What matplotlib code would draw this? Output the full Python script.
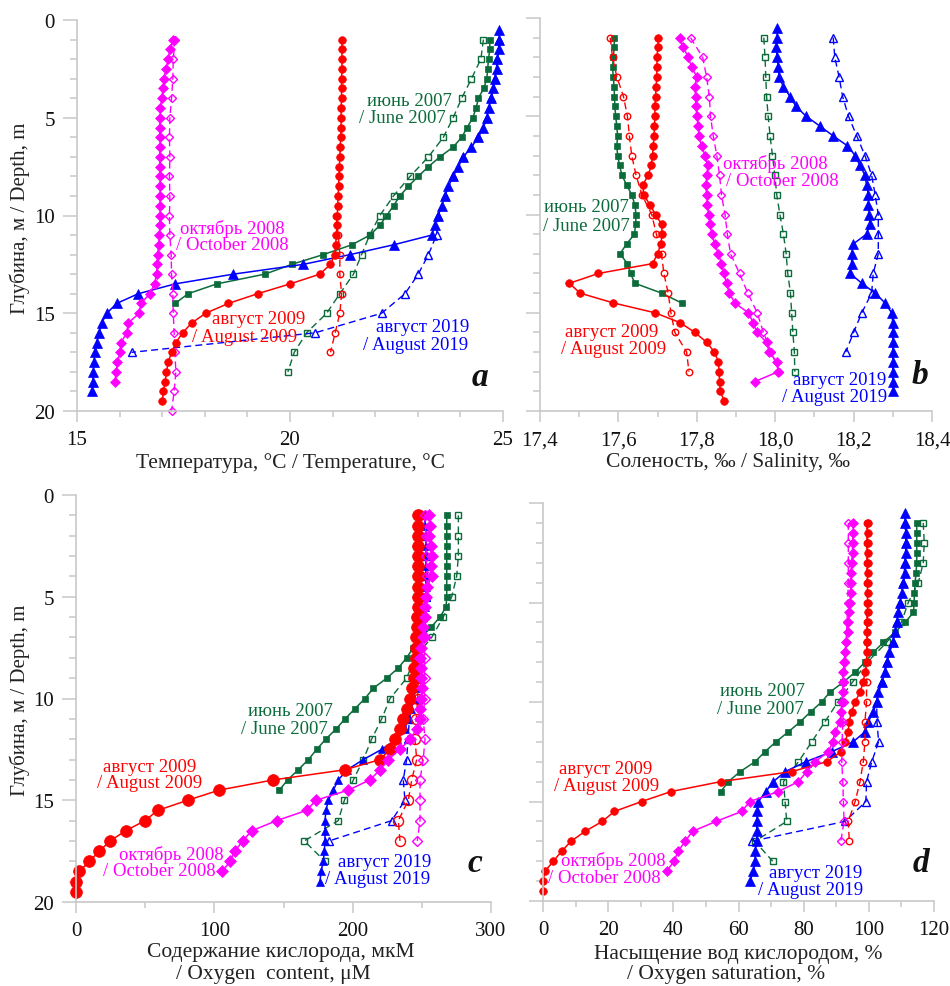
import matplotlib
matplotlib.use("Agg")
import matplotlib.pyplot as plt
from matplotlib.ticker import MultipleLocator, FuncFormatter

plt.rcParams['font.family'] = ['Liberation Serif', 'DejaVu Serif']

RED = '#ff0000'
MAG = '#ff00ff'
BLUE = '#0000ff'
GREEN = '#0b6b3a'

# sampling depths, m
HALF = [0.5, 1.0, 1.5, 2.0, 2.5, 3.0, 3.5, 4.0, 4.5, 5.0, 5.5, 6.0, 6.5, 7.0,
        7.5, 8.0, 8.5, 9.0, 9.5, 10.0, 10.5, 11.0, 11.5, 12.0, 12.5, 13.0,
        13.5, 14.0, 14.5, 15.0, 15.5, 16.0, 16.5, 17.0, 17.5, 18.0, 18.5,
        19.0, 19.5, 20.0]
ONE = [1, 2, 3, 4, 5, 6, 7, 8, 9, 10, 11, 12, 13, 14, 15, 16, 17, 18, 19, 20]


def half(a, b):
    return HALF[HALF.index(a):HALF.index(b) + 1]


def one(a, b):
    return ONE[a - 1:b]


# ---- a: temperature, C ----
a_red = [21.22, 21.22, 21.22, 21.22, 21.21, 21.21, 21.21, 21.2, 21.2, 21.2,
         21.19, 21.18, 21.17, 21.16, 21.15, 21.14, 21.13, 21.12, 21.11, 21.1,
         21.09, 21.07, 21.05, 20.95, 20.7, 20.0, 19.24, 18.55, 18.02, 17.69,
         17.48, 17.32, 17.22, 17.14, 17.1, 17.07, 17.03, 17.0]
a_red_d = [21.08, 21.13, 21.17, 21.17, 21.21, 21.17, 21.06, 20.95]
a_mag = [17.26, 17.18, 17.14, 17.09, 17.04, 17.02, 16.99, 16.96, 16.95, 16.94,
         16.95, 16.95, 16.94, 16.95, 16.95, 16.95, 16.95, 16.95, 16.95, 16.95,
         16.93, 16.92, 16.89, 16.88, 16.87, 16.82, 16.71, 16.50, 16.46, 16.20,
         16.17, 16.03, 16.01, 15.95, 15.92, 15.89]
a_mag_d = [17.3, 17.26, 17.25, 17.22, 17.18, 17.17, 17.18, 17.17, 17.18, 17.17,
           17.18, 17.21, 17.22, 17.25, 17.26, 17.28, 17.30, 17.32, 17.28, 17.22]
a_grn = [24.69, 24.69, 24.66, 24.64, 24.62, 24.55, 24.42, 24.37, 24.29, 24.16,
         24.03, 23.83, 23.52, 23.25, 23.01, 22.78, 22.58, 22.43, 22.27, 22.11,
         21.88, 21.45, 20.78, 20.04, 19.41, 18.28, 17.61, 17.30]
a_grn_d = [24.54, 24.48, 24.26, 24.03, 23.83, 23.6, 23.25, 22.82, 22.43, 22.11,
           21.87, 21.68, 21.49, 21.17, 20.86, 20.39, 20.1, 19.95]
a_blu = [24.91, 24.91, 24.91, 24.87, 24.85, 24.81, 24.77, 24.73, 24.66, 24.62,
         24.54, 24.42, 24.26, 24.07, 23.95, 23.83, 23.72, 23.64, 23.56, 23.48,
         23.40, 23.33, 22.43, 21.41, 20.31, 18.67, 17.30, 16.44, 15.93, 15.70,
         15.58, 15.52, 15.46, 15.42, 15.40, 15.38, 15.37, 15.36]
a_blu_d = [24.91, 24.87, 24.81, 24.73, 24.62, 24.42, 24.07, 23.83, 23.64, 23.48,
           23.44, 23.25, 23.01, 22.7, 22.15, 20.59, 16.28]

# ---- b: salinity, permille ----
b_red = [17.702, 17.700, 17.699, 17.698, 17.698, 17.696, 17.695, 17.693, 17.693,
         17.692, 17.691, 17.689, 17.687, 17.684, 17.676, 17.662, 17.665, 17.68,
         17.695, 17.71, 17.712, 17.708, 17.70, 17.687, 17.549, 17.475, 17.502,
         17.587, 17.693, 17.757, 17.795, 17.825, 17.845, 17.855, 17.857, 17.858,
         17.86, 17.87]
b_red_d = [17.579, 17.585, 17.596, 17.613, 17.623, 17.628, 17.634, 17.645, 17.66,
           17.685, 17.697, 17.71, 17.716, 17.727, 17.734, 17.744, 17.774, 17.78]
b_mag = [17.756, 17.766, 17.778, 17.787, 17.80, 17.795, 17.797, 17.798, 17.80,
         17.804, 17.805, 17.812, 17.821, 17.828, 17.826, 17.823, 17.825, 17.827,
         17.83, 17.834, 17.838, 17.846, 17.855, 17.863, 17.869, 17.876, 17.883,
         17.897, 17.931, 17.944, 17.953, 17.978, 17.985, 18.004, 18.008, 17.948]
b_mag_d = [17.784, 17.815, 17.825, 17.832, 17.835, 17.842, 17.851, 17.858, 17.863,
           17.872, 17.878, 17.886, 17.909, 17.93, 17.954, 17.97, 17.99, 18.01]
b_grn = [17.59, 17.589, 17.587, 17.585, 17.587, 17.589, 17.59, 17.591, 17.593,
         17.596, 17.598, 17.596, 17.598, 17.603, 17.609, 17.621, 17.634, 17.642,
         17.645, 17.644, 17.641, 17.621, 17.604, 17.623, 17.631, 17.642, 17.71,
         17.761]
b_grn_d = [17.971, 17.974, 17.976, 17.978, 17.982, 17.987, 17.993, 17.999, 18.004,
           18.012, 18.021, 18.028, 18.032, 18.039, 18.042, 18.045, 18.049, 18.05]
b_blu = [18.005, 18.005, 18.003, 18.005, 18.008, 18.01, 18.021, 18.038, 18.053,
         18.079, 18.114, 18.148, 18.184, 18.204, 18.216, 18.229, 18.233, 18.238,
         18.238, 18.24, 18.242, 18.233, 18.199, 18.195, 18.195, 18.191, 18.221,
         18.255, 18.28, 18.297, 18.30, 18.30, 18.30, 18.30, 18.30, 18.30, 18.30,
         18.30]
b_blu_d = [18.148, 18.152, 18.163, 18.172, 18.187, 18.208, 18.229, 18.246, 18.255,
           18.263, 18.263, 18.263, 18.25, 18.246, 18.221, 18.2, 18.18]

# ---- c: oxygen content, uM ----
c_red = [247.5, 247.5, 247.5, 247, 247, 247, 247, 247, 247, 247, 246.5, 246.5,
         246, 246, 245.5, 244.5, 244, 243, 241.5, 239.5, 236.5, 234, 230.6, 227,
         219.8, 194.5, 142.7, 103.6, 80.7, 59, 49.9, 35.9, 24.6, 16.9, 9.6, 2.4,
         0, 0]
c_red_d = [248, 248, 248, 248.5, 248.5, 248.5, 248, 248, 247.5, 247, 246, 245,
           246.3, 242.7, 240.2, 233, 234.2]
c_mag = [255, 256, 255.5, 256.5, 257, 256.5, 257, 254, 253, 252.5, 252, 251,
         250.5, 249.5, 249, 249.5, 249.5, 250, 249.5, 249, 248.7, 246.3, 241.4,
         234.2, 225.8, 219.8, 212.5, 196.9, 173.5, 166.7, 145.1, 127, 120.5,
         114.9, 111.3, 105.8]
c_mag_d = [252, 253, 253, 253.5, 253, 252.5, 252, 252, 252, 252, 251, 252.3, 251,
           248.7, 248.7, 248.7, 246.7]
c_grn = [268, 268, 268, 268, 268, 268, 268, 268, 268, 267.5, 263.1, 256.6, 249.9,
         243.9, 239, 233, 224.6, 214.9, 208.9, 201.7, 194.5, 188, 180.5, 174,
         168, 160.7, 153, 147]
c_grn_d = [276.4, 276.4, 276.4, 275.2, 271.6, 265.5, 257.1, 245, 239, 227, 221,
           213.7, 207.7, 200.5, 194, 189.6, 165, 180]
c_blu = [252, 252.5, 253, 253, 253, 253, 253, 253, 253, 252, 251, 250, 249,
         248.5, 248, 247.5, 247, 245.5, 244, 242, 240, 237.8, 231.8, 221, 207.7,
         196.1, 189.6, 186, 182.4, 180.7, 180, 180, 180, 179.5, 178.8, 177.1,
         176.4]
c_blu_d = [252, 253, 253, 253, 253, 251, 249, 248, 247, 244, 241, 240, 239,
           236.6, 237.8, 228.2, 183]

# ---- d: oxygen saturation, % ----
d_red = [99.6, 99.6, 99.6, 99.6, 99.6, 99.6, 99.6, 99.6, 99.6, 99.6, 99.6, 99.5,
         99.5, 99.4, 99.3, 98.8, 98.3, 97.3, 95.8, 94.7, 93.9, 93.7, 92.7, 91.4,
         87.1, 76.3, 54.6, 39.3, 30.3, 21.9, 18.2, 12.9, 8.6, 5.7, 3.2, 0.6, 0,
         0]
d_red_d = [99.4, 99.4, 99.4, 99.4, 99.4, 99.4, 99.4, 99.3, 99.3, 99.3, 98.8,
           98.8, 98.3, 97.3, 95.8, 93.7, 94.0]
d_mag = [95.2, 95.2, 95.0, 95.0, 94.7, 94.5, 94.5, 94.4, 94.2, 94.0, 93.7, 93.5,
         93.0, 92.7, 92.4, 92.2, 92.0, 92.0, 91.7, 91.5, 91.2, 89.6, 88.9, 87.6,
         83.5, 80.9, 78.4, 72.2, 63.5, 61.0, 53.1, 45.9, 43.6, 41.5, 40.2, 38.0]
d_mag_d = [93.7, 93.7, 93.7, 93.7, 93.5, 93.3, 93.0, 92.8, 92.5, 92.3, 92.0,
           91.8, 91.7, 92.0, 92.2, 92.4, 91.4]
d_grn = [114.7, 114.7, 114.7, 114.7, 114.7, 114.5, 114.2, 114.0, 113.9, 113.7,
         111.1, 108.0, 104.5, 101.4, 98.8, 95.8, 92.2, 88.1, 85.5, 82.1, 78.9,
         75.3, 71.5, 68.1, 65.1, 60.5, 56.9, 54.6]
d_grn_d = [116.7, 117.0, 116.7, 115.2, 112.1, 110.0, 105.5, 99.5, 95.0, 90.5,
           86.5, 82.5, 78.4, 73.8, 74.3, 74.8, 65.0, 70.5]
d_blu = [111.1, 111.1, 111.4, 111.4, 111.4, 111.1, 111.1, 110.6, 110.1, 109.6,
         109.1, 108.5, 108.0, 107.3, 106.3, 105.5, 105.0, 103.9, 102.9, 102.4,
         101.4, 99.8, 98.8, 95.2, 88.6, 80.7, 74.3, 70.7, 68.4, 66.1, 65.8, 65.6,
         65.6, 65.6, 65.1, 65.1, 64.6, 63.5]
d_blu_d = [111.1, 111.4, 111.1, 110.6, 109.6, 108.5, 107.3, 105.5, 103.9, 102.4,
           102.5, 103.0, 100.9, 99.3, 99.1, 92.7, 64.0]

LAB_2007 = ("июнь 2007", "/ June 2007")
LAB_2008 = ("октябрь 2008", "/ October 2008")
LAB_2009 = ("август 2009", "/ August 2009")
LAB_2019 = ("август 2019", "/ August 2019")

W, H = 950, 987
fig = plt.figure(figsize=(W / 100, H / 100), dpi=100)


def box(l, r, t, b):
    return [l / W, 1 - b / H, (r - l) / W, (b - t) / H]


def ftxt(x, y, s, **kw):
    fig.text(x / W, 1 - y / H, s, ha='center', va='center', **kw)


def style(ax, xlim, major, minor, ylab=True, fmt=None):
    ax.set_xlim(*xlim)
    ax.set_ylim(20, 0)
    ax.spines['top'].set_visible(False)
    ax.spines['right'].set_visible(False)
    for s in ('left', 'bottom'):
        ax.spines[s].set_color('#c8c8c8')
        ax.spines[s].set_linewidth(1.2)
    ax.xaxis.set_major_locator(MultipleLocator(major))
    ax.xaxis.set_minor_locator(MultipleLocator(minor))
    ax.yaxis.set_major_locator(MultipleLocator(5))
    ax.yaxis.set_minor_locator(MultipleLocator(1))
    ax.tick_params(which='both', direction='out', color='#c8c8c8', width=1.1,
                   labelsize=15, labelcolor='#111111')
    ax.tick_params(axis='y', which='major', length=10, pad=6)
    ax.tick_params(axis='y', which='minor', length=5)
    ax.tick_params(axis='x', which='major', length=8, pad=6)
    ax.tick_params(axis='x', which='minor', length=4)
    if not ylab:
        ax.set_yticklabels([])
    if fmt:
        ax.xaxis.set_major_formatter(FuncFormatter(fmt))


def prof(ax, depth, vals, color, marker, ms, dashed=False):
    if dashed:
        ax.plot(vals, depth, color=color, lw=1.0, ls=(0, (5, 3)), marker=marker,
                ms=ms * 0.85, mfc='none', mec=color, mew=1.0, clip_on=False)
    else:
        ax.plot(vals, depth, color=color, lw=1.1, marker=marker, ms=ms,
                mfc=color, mec=color, mew=0.5, clip_on=False)


def series(ax, data, ms):
    # data: (solid depth, solid vals, dashed depth, dashed vals, color, marker)
    for d1, v1, d2, v2, col, mk in data:
        prof(ax, d2, v2, col, mk, ms[mk], dashed=True)
        prof(ax, d1, v1, col, mk, ms[mk])


def label(lines, pos, color):
    for s, (x, y) in zip(lines, pos):
        ftxt(x, y, s, color=color, fontsize=13.5)


MS = {'o': 5.5, 'D': 5.0, '^': 6.5, 's': 5.0}
MS_C = {'o': 8.5, 'D': 6.5, '^': 6.0, 's': 5.0}

# panel a
ax = fig.add_axes(box(77, 503, 21, 412))
style(ax, (15, 25), 5, 1)
series(ax, [
    (half(1.0, 14.5), a_grn, one(1, 18), a_grn_d, GREEN, 's'),
    (half(0.5, 19.0), a_blu, one(1, 17), a_blu_d, BLUE, '^'),
    (half(1.0, 18.5), a_mag, one(1, 20), a_mag_d, MAG, 'D'),
    (half(1.0, 19.5), a_red, one(10, 17), a_red_d, RED, 'o'),
], MS)

# panel b
ax = fig.add_axes(box(540, 932, 19, 412))
style(ax, (17.4, 18.4), 0.2, 0.1, ylab=False,
      fmt=lambda v, p: f"{v:.1f}".replace('.', ','))
series(ax, [
    (half(1.0, 14.5), b_grn, one(1, 18), b_grn_d, GREEN, 's'),
    (half(0.5, 19.0), b_blu, one(1, 17), b_blu_d, BLUE, '^'),
    (half(1.0, 18.5), b_mag, one(1, 18), b_mag_d, MAG, 'D'),
    (half(1.0, 19.5), b_red, one(1, 18), b_red_d, RED, 'o'),
], MS)

# panel c
ax = fig.add_axes(box(76, 491, 496, 903))
style(ax, (0, 300), 100, 50)
series(ax, [
    (half(1.0, 14.5), c_grn, one(1, 18), c_grn_d, GREEN, 's'),
    (half(1.0, 19.0), c_blu, one(1, 17), c_blu_d, BLUE, '^'),
    (half(1.0, 19.5), c_red, one(1, 17), c_red_d, RED, 'o'),
    (half(1.0, 18.5), c_mag, one(1, 17), c_mag_d, MAG, 'D'),
], MS_C)

# panel d
ax = fig.add_axes(box(543, 934, 504, 902))
style(ax, (0, 120), 20, 10, ylab=False)
series(ax, [
    (half(1.0, 14.5), d_grn, one(1, 18), d_grn_d, GREEN, 's'),
    (half(0.5, 19.0), d_blu, one(1, 17), d_blu_d, BLUE, '^'),
    (half(1.0, 19.5), d_red, one(1, 17), d_red_d, RED, 'o'),
    (half(1.0, 18.5), d_mag, one(1, 17), d_mag_d, MAG, 'D'),
], MS)

# curve labels
label(LAB_2007, [(409, 102), (402, 119)], GREEN)
label(LAB_2008, [(232, 229), (232, 246)], MAG)
label(LAB_2009, [(259, 320), (245, 337)], RED)
label(LAB_2019, [(423, 328), (416, 345)], BLUE)

label(LAB_2008, [(775, 164), (782, 182)], MAG)
label(LAB_2007, [(586, 208), (586, 227)], GREEN)
label(LAB_2009, [(612, 333), (614, 350)], RED)
label(LAB_2019, [(840, 381), (835, 397)], BLUE)

label(LAB_2007, [(290, 712), (284, 729)], GREEN)
label(LAB_2009, [(150, 767), (150, 784)], RED)
label(LAB_2008, [(171, 855), (159, 872)], MAG)
label(LAB_2019, [(385, 863), (378, 880)], BLUE)

label(LAB_2007, [(762, 692), (760, 710)], GREEN)
label(LAB_2009, [(606, 770), (607, 787)], RED)
label(LAB_2008, [(613, 861), (604, 879)], MAG)
label(LAB_2019, [(816, 874), (811, 891)], BLUE)

# panel letters
for s, x, y in [('a', 480, 378), ('b', 920, 376), ('c', 475, 864), ('d', 921, 864)]:
    ftxt(x, y, s, fontsize=24, fontweight='bold', fontstyle='italic', color='#111111')

# axis titles
ylab = "Глубина, м / Depth, m"
ftxt(20, 218, ylab, rotation=90, fontsize=15, color='#222222')
ftxt(20, 700, ylab, rotation=90, fontsize=15, color='#222222')
ftxt(290, 463, "Температура, °C / Temperature, °C", fontsize=15.5, color='#222222')
ftxt(728, 463, "Соленость, ‰ / Salinity, ‰", fontsize=15.5, color='#222222')
ftxt(281, 953, "Содержание кислорода, мкМ", fontsize=15.5, color='#222222')
ftxt(273, 975, "/ Oxygen  content, μM", fontsize=15.5, color='#222222')
ftxt(738, 955, "Насыщение вод кислородом, %", fontsize=15.5, color='#222222')
ftxt(726, 975, "/ Oxygen saturation, %", fontsize=15.5, color='#222222')

fig.savefig("out.png", dpi=100)
